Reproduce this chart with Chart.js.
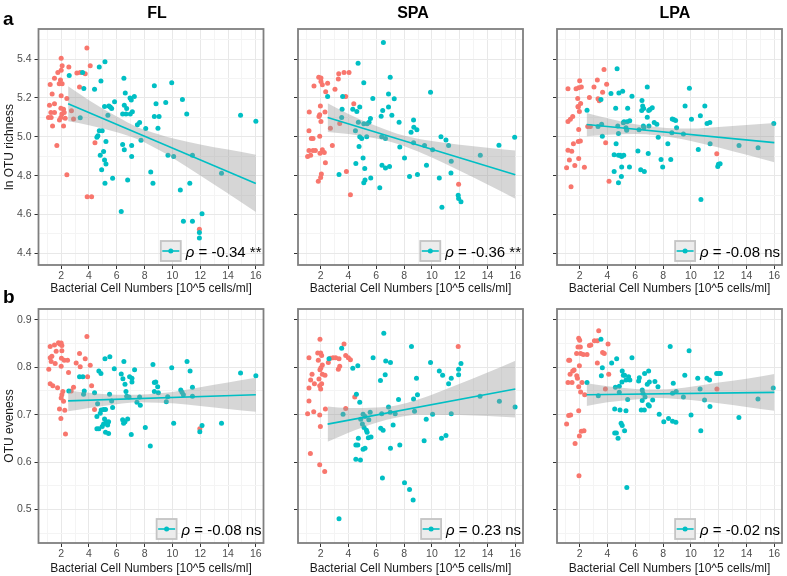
<!DOCTYPE html>
<html><head><meta charset="utf-8">
<script src="https://cdn.jsdelivr.net/npm/chart.js@4/dist/chart.umd.min.js"></script>
<style>
html,body{margin:0;padding:0;background:#fff;}
#wrap{position:relative;width:787px;height:576px;overflow:hidden;font-family:"Liberation Sans",Arial,Helvetica,sans-serif;}
canvas{position:absolute;left:0;top:0;}
.lbl{position:absolute;font-weight:bold;color:#000;line-height:1;white-space:nowrap;}
.ttl{position:absolute;width:200px;text-align:center;font-weight:bold;font-size:16px;line-height:1;color:#000;}
</style></head><body>
<div id="wrap">
  <div class="lbl" style="left:3px;top:9px;font-size:19px">a</div>
  <div class="lbl" style="left:3px;top:287px;font-size:19px">b</div>
  <div class="ttl" style="left:57px;top:4.5px">FL</div>
  <div class="ttl" style="left:313px;top:4.5px">SPA</div>
  <div class="ttl" style="left:575px;top:4.5px">LPA</div>
</div>
<script>
// ---------- categories / text ----------
const PANEL_TITLES = ['FL', 'SPA', 'LPA'];
const Y_TITLES = ['ln OTU richness', 'OTU eveness'];
const X_TITLE = 'Bacterial Cell Numbers [10^5 cells/ml]';
const LEGEND_TEXT = [['-0.34 **', '-0.36 **', '-0.08 ns'], ['-0.08 ns', '0.23 ns', '-0.02 ns']];

// ---------- ticks ----------
const X_TICKS = [1,2,3,4,5,6,7,8,9,10,11,12,13,14,15,16];
const X_LABELS = ['2','4','6','8','10','12','14','16'];
const Y_RICH_TICKS = [4.4,4.5,4.6,4.7,4.8,4.9,5.0,5.1,5.2,5.3,5.4,5.5];
const Y_RICH_LABELS = ['4.4','4.6','4.8','5.0','5.2','5.4'];
const Y_EVEN_TICKS = [0.45,0.5,0.55,0.6,0.65,0.7,0.75,0.8,0.85,0.9];
const Y_EVEN_LABELS = ['0.5','0.6','0.7','0.8','0.9'];

// ---------- richness (row a) ----------
const FL_RICH_LOW = [[3.85,5.457],[2.0,5.405],[2.07,5.366],[2.55,5.359],[2.0,5.342],[1.76,5.331],[3.13,5.328],[3.37,5.331],[3.73,5.324],[4.09,5.366],[1.52,5.302],[1.95,5.293],[1.21,5.269],[1.86,5.273],[2.07,5.273],[3.32,5.256],[1.35,5.22],[2.0,5.211],[2.41,5.197],[1.16,5.163],[1.52,5.17],[1.98,5.147],[2.17,5.142],[1.26,5.125],[1.52,5.125],[2.05,5.118],[2.22,5.125],[1.09,5.1],[1.28,5.1],[1.98,5.1],[1.88,5.087],[2.29,5.096],[2.74,5.134],[2.89,5.092],[1.38,5.056],[2.17,5.056],[1.69,4.955],[2.41,4.804],[4.43,4.969],[3.87,4.692],[4.19,4.692],[11.94,4.524]];
const FL_RICH_HIGH = [[2.58,5.316],[3.54,5.331],[3.63,5.249],[3.37,5.098],[4.40,5.245],[4.74,5.359],[5.15,5.386],[4.86,5.287],[6.51,5.302],[6.61,5.225],[5.84,5.18],[5.12,5.156],[5.43,5.159],[5.53,5.153],[5.63,5.146],[5.36,5.111],[6.54,5.163],[6.71,5.146],[6.42,5.118],[6.66,5.118],[6.95,5.2],[7.04,5.19],[7.26,5.208],[7.12,5.129],[6.97,5.118],[7.48,5.062],[7.64,5.074],[8.08,5.043],[7.74,4.982],[8.70,5.263],[8.82,5.17],[8.70,5.104],[9.04,5.104],[8.96,5.044],[9.52,5.177],[9.95,5.278],[9.68,4.905],[10.09,4.898],[10.72,5.192],[11.03,5.118],[11.44,4.905],[10.57,4.726],[11.25,4.761],[10.79,4.565],[11.44,4.565],[12.13,4.604],[11.94,4.507],[11.94,4.479],[13.53,4.812],[14.9,5.111],[16.0,5.08],[4.57,4.998],[4.64,5.005],[4.74,5.031],[4.95,5.031],[5.22,4.976],[5.05,4.924],[4.81,4.905],[5.12,4.881],[5.22,4.86],[4.91,4.83],[5.15,4.761],[5.70,4.787],[6.42,4.96],[6.54,4.933],[7.07,4.955],[7.07,4.898],[6.78,4.778],[6.32,4.615],[8.44,4.819],[8.6,4.761]];
const SPA_RICH_LOW = [[1.86,5.307],[2.02,5.303],[2.02,5.285],[2.12,5.268],[1.52,5.261],[2.5,5.276],[3.3,5.324],[3.68,5.331],[4.04,5.331],[3.27,5.297],[2.36,5.232],[3.03,5.245],[3.8,5.207],[4.38,5.17],[1.18,5.128],[2.31,5.128],[1.98,5.159],[1.93,5.113],[1.88,5.104],[2.02,5.079],[2.7,5.044],[3.37,5.068],[1.16,5.031],[1.33,4.991],[1.45,4.991],[1.93,5.003],[2.84,4.955],[1.16,4.929],[1.45,4.929],[2.12,4.933],[2.26,4.919],[1.62,4.929],[1.06,4.898],[1.28,4.905],[1.95,4.915],[2.34,4.867],[2.05,4.809],[2.0,4.79],[1.83,4.771],[3.85,4.821],[4.14,4.702],[11.92,4.756]];
const SPA_RICH_HIGH = [[6.51,5.486],[4.69,5.379],[7.0,5.307],[5.1,5.278],[2.5,5.208],[3.58,5.208],[5.75,5.197],[6.88,5.22],[9.9,5.23],[7.29,5.196],[6.88,5.153],[4.81,5.153],[4.31,5.142],[4.6,5.13],[6.46,5.135],[6.35,5.106],[7.12,5.111],[3.54,5.142],[3.51,5.099],[5.58,5.094],[4.71,5.075],[5.1,5.067],[5.34,5.067],[5.48,5.075],[8.68,5.087],[8.7,5.049],[8.92,5.036],[7.64,5.075],[4.5,5.031],[8.5,5.024],[4.81,5.0],[4.95,4.991],[5.31,5.0],[6.39,5.0],[6.66,4.991],[8.68,4.97],[10.65,5.0],[11.01,4.984],[11.2,4.955],[7.69,4.948],[9.47,4.955],[10.05,4.933],[4.76,4.95],[14.82,4.956],[15.95,4.998],[13.48,4.905],[11.39,4.874],[5.05,4.891],[4.53,4.862],[6.41,4.854],[6.66,4.84],[6.95,4.847],[8.03,4.891],[9.61,4.854],[5.17,4.837],[3.32,4.806],[5.6,4.788],[8.39,4.795],[8.96,4.806],[11.37,4.814],[10.53,4.788],[5.19,4.778],[5.1,4.763],[6.25,4.738],[11.89,4.699],[11.92,4.682],[12.09,4.665],[10.72,4.637]];
const LPA_RICH_LOW = [[3.75,5.347],[3.27,5.292],[2.0,5.288],[1.16,5.247],[1.74,5.247],[1.93,5.252],[2.12,5.256],[3.03,5.256],[3.94,5.27],[3.65,5.23],[1.86,5.197],[2.7,5.202],[3.32,5.196],[3.41,5.185],[2.07,5.171],[1.88,5.156],[1.98,5.13],[1.9,5.153],[1.16,5.079],[1.33,5.091],[1.5,5.104],[1.93,5.037],[2.58,5.053],[2.77,5.053],[3.87,4.97],[1.55,4.964],[1.9,4.976],[2.05,4.979],[1.16,4.931],[1.43,4.925],[1.93,4.888],[1.26,4.881],[1.65,4.852],[1.06,4.841],[2.34,4.843],[1.38,4.743],[4.11,4.771],[11.86,4.913]];
const LPA_RICH_HIGH = [[4.69,5.35],[2.53,5.137],[3.53,5.192],[4.25,5.223],[4.82,5.225],[5.09,5.235],[5.76,5.209],[4.59,5.147],[6.48,5.187],[6.53,5.159],[6.46,5.135],[6.6,5.146],[7.22,5.15],[7.05,5.141],[6.96,5.136],[6.86,5.256],[6.86,5.101],[5.45,5.147],[4.74,5.056],[5.19,5.077],[5.14,5.072],[5.41,5.077],[5.6,5.082],[5.33,5.046],[5.38,5.034],[3.32,5.053],[3.58,5.065],[3.63,5.003],[4.79,5.017],[6.27,5.036],[6.58,5.056],[6.62,5.046],[6.98,5.056],[7.36,5.074],[7.55,5.065],[7.65,4.998],[8.66,5.092],[8.76,5.089],[8.9,5.084],[8.97,5.046],[8.63,5.021],[9.46,5.014],[9.58,5.158],[9.89,5.25],[10.04,5.091],[10.68,5.108],[11.0,5.158],[11.16,5.068],[11.36,5.074],[11.38,4.964],[10.53,4.935],[8.34,4.964],[7.85,4.883],[8.55,4.883],[6.93,4.914],[6.19,4.927],[4.62,4.964],[4.48,4.907],[4.79,4.905],[4.91,4.905],[5.02,4.898],[5.17,4.905],[5.02,4.845],[4.48,4.821],[4.79,4.763],[5.0,4.795],[5.58,4.845],[6.39,4.83],[6.65,4.821],[7.97,4.845],[11.93,4.847],[11.98,4.859],[12.1,4.861],[10.72,4.677],[13.46,4.955],[14.83,4.943],[15.96,5.068]];

// ---------- evenness (row b) ----------
const FL_EVEN_LOW = [[1.21,0.844],[1.52,0.847],[1.81,0.852],[2.0,0.851],[1.9,0.849],[2.05,0.846],[1.64,0.834],[2.05,0.835],[1.33,0.823],[1.21,0.82],[1.28,0.812],[1.57,0.808],[2.02,0.819],[2.22,0.815],[2.46,0.815],[2.0,0.802],[3.32,0.829],[3.08,0.809],[3.37,0.801],[3.73,0.818],[3.85,0.865],[4.09,0.804],[2.53,0.789],[1.11,0.796],[1.21,0.765],[1.4,0.761],[1.74,0.757],[3.9,0.78],[4.19,0.761],[2.89,0.758],[2.72,0.75],[2.12,0.749],[2.05,0.742],[2.0,0.735],[2.17,0.728],[1.88,0.712],[2.26,0.709],[4.4,0.711],[1.98,0.692],[2.31,0.659],[11.97,0.67]];
const FL_EVEN_HIGH = [[2.55,0.75],[3.32,0.78],[3.56,0.78],[3.66,0.75],[3.61,0.743],[4.4,0.746],[4.62,0.723],[4.71,0.792],[4.86,0.787],[4.81,0.703],[4.88,0.71],[5.05,0.711],[5.19,0.711],[4.57,0.696],[5.12,0.691],[4.57,0.67],[4.71,0.67],[4.95,0.675],[5.05,0.68],[5.24,0.685],[5.34,0.678],[5.41,0.685],[5.19,0.663],[5.41,0.66],[5.15,0.818],[5.5,0.822],[5.82,0.797],[5.48,0.743],[5.63,0.729],[5.70,0.715],[6.51,0.812],[6.32,0.786],[6.44,0.776],[6.59,0.764],[6.66,0.749],[6.71,0.739],[6.92,0.78],[7.09,0.777],[7.09,0.769],[7.28,0.795],[7.45,0.726],[7.69,0.72],[7.64,0.737],[6.88,0.737],[6.42,0.689],[6.59,0.685],[6.78,0.691],[6.49,0.682],[7.04,0.658],[8.05,0.673],[8.41,0.634],[8.6,0.806],[8.8,0.769],[8.7,0.768],[8.94,0.759],[8.99,0.746],[8.7,0.749],[9.56,0.727],[9.66,0.738],[9.95,0.799],[10.09,0.682],[10.6,0.752],[10.69,0.747],[10.79,0.742],[11.05,0.812],[11.27,0.792],[11.44,0.758],[11.44,0.739],[11.97,0.664],[12.13,0.677],[13.53,0.682],[14.9,0.788],[16.0,0.782]];
const SPA_EVEN_LOW = [[1.95,0.859],[1.79,0.83],[2.0,0.83],[2.07,0.825],[1.16,0.82],[1.83,0.815],[2.12,0.805],[2.02,0.799],[1.95,0.795],[1.38,0.785],[2.12,0.785],[2.31,0.783],[1.28,0.773],[1.55,0.765],[1.88,0.775],[1.93,0.761],[2.07,0.765],[1.16,0.756],[2.0,0.754],[1.16,0.729],[1.5,0.706],[1.06,0.702],[1.93,0.699],[2.34,0.712],[1.98,0.675],[1.26,0.618],[1.93,0.594],[2.29,0.58],[2.55,0.81],[2.7,0.819],[2.89,0.82],[3.08,0.82],[3.32,0.818],[3.27,0.796],[3.37,0.802],[3.68,0.849],[3.8,0.825],[3.99,0.82],[4.14,0.816],[3.8,0.713],[4.45,0.737],[11.89,0.844]];
const SPA_EVEN_HIGH = [[3.51,0.84],[2.6,0.818],[3.61,0.701],[4.31,0.798],[4.67,0.803],[4.57,0.743],[4.81,0.726],[4.71,0.65],[4.53,0.636],[4.67,0.636],[5.05,0.627],[5.19,0.629],[4.53,0.606],[4.86,0.604],[4.88,0.69],[5.05,0.701],[5.19,0.696],[5.0,0.68],[5.12,0.673],[5.29,0.667],[5.34,0.663],[5.43,0.651],[5.62,0.653],[5.46,0.689],[5.56,0.705],[5.77,0.82],[6.54,0.872],[6.68,0.813],[7.02,0.81],[6.64,0.784],[6.3,0.772],[6.39,0.702],[6.88,0.716],[7.0,0.705],[7.36,0.702],[7.6,0.732],[7.21,0.678],[6.32,0.671],[6.49,0.667],[7.02,0.629],[7.69,0.636],[6.44,0.566],[8.03,0.556],[8.39,0.542],[8.65,0.52],[8.53,0.844],[8.68,0.733],[8.96,0.742],[8.89,0.777],[8.75,0.707],[9.59,0.69],[9.44,0.645],[9.9,0.81],[10.05,0.701],[10.53,0.792],[10.77,0.783],[11.01,0.656],[10.69,0.65],[11.2,0.765],[11.39,0.777],[11.39,0.702],[11.92,0.796],[11.92,0.784],[12.09,0.808],[13.46,0.739],[14.85,0.728],[15.98,0.716],[3.32,0.48]];
const LPA_EVEN_LOW = [[3.37,0.877],[1.93,0.861],[2.0,0.857],[2.05,0.843],[1.88,0.843],[2.7,0.846],[2.8,0.847],[3.06,0.856],[3.27,0.856],[4.04,0.849],[1.78,0.829],[2.07,0.829],[2.26,0.827],[2.53,0.827],[3.65,0.831],[3.77,0.829],[1.21,0.815],[1.28,0.815],[3.27,0.809],[1.98,0.803],[1.5,0.792],[1.6,0.794],[1.31,0.785],[1.79,0.782],[1.84,0.777],[4.09,0.785],[1.16,0.768],[1.45,0.768],[2.17,0.768],[1.93,0.759],[2.07,0.748],[2.36,0.742],[3.85,0.754],[1.21,0.698],[1.35,0.699],[1.93,0.708],[1.06,0.68],[2.12,0.665],[2.31,0.666],[1.98,0.655],[1.67,0.639],[1.95,0.571],[11.87,0.754]];
const LPA_EVEN_HIGH = [[3.53,0.859],[2.53,0.768],[3.34,0.74],[3.63,0.799],[3.56,0.782],[4.3,0.809],[4.66,0.818],[4.57,0.758],[4.85,0.76],[4.85,0.747],[5.06,0.792],[5.14,0.783],[5.23,0.783],[5.33,0.773],[5.04,0.769],[5.52,0.78],[5.61,0.773],[5.45,0.732],[5.76,0.82],[4.52,0.712],[4.9,0.71],[5.33,0.708],[4.98,0.682],[5.06,0.677],[5.23,0.666],[4.52,0.661],[4.64,0.661],[4.76,0.65],[5.39,0.546],[6.24,0.771],[6.29,0.778],[6.67,0.787],[6.96,0.792],[6.86,0.764],[7.01,0.769],[6.5,0.752],[6.55,0.745],[6.7,0.737],[6.5,0.73],[6.43,0.71],[6.65,0.71],[6.93,0.721],[7.01,0.718],[7.25,0.731],[7.41,0.77],[7.63,0.759],[7.72,0.701],[8.05,0.685],[8.39,0.692],[8.68,0.686],[8.92,0.684],[8.51,0.844],[8.68,0.745],[8.73,0.766],[8.94,0.749],[9.46,0.737],[9.56,0.783],[9.87,0.835],[10.01,0.699],[10.49,0.777],[10.66,0.754],[10.71,0.666],[10.98,0.731],[11.15,0.777],[11.34,0.773],[11.37,0.717],[11.85,0.787],[12.0,0.787],[12.12,0.787],[13.45,0.694],[14.82,0.733],[15.92,0.756]];

// ---------- fitted lines and confidence bands ----------
const BAND_X = [2.5,4,6,7.5,9,10,12,14,16];
const FL_RICH_FIT = [[2.5,5.17],[16,4.76]];
const FL_RICH_UP = [5.26,5.188,5.104,5.049,5.013,4.992,4.961,4.934,4.907];
const FL_RICH_LO = [5.08,5.06,5.024,4.987,4.933,4.892,4.801,4.708,4.613];
const SPA_RICH_FIT = [[2.5,5.099],[16,4.805]];
const SPA_RICH_UP = [5.173,5.118,5.055,5.016,4.99,4.979,4.959,4.944,4.929];
const SPA_RICH_LO = [5.025,5.014,4.991,4.964,4.924,4.893,4.825,4.754,4.681];
const LPA_RICH_FIT = [[2.5,5.063],[16,4.97]];
const LPA_RICH_UP = [5.123,5.095,5.064,5.05,5.043,5.043,5.051,5.061,5.071];
const LPA_RICH_LO = [5.003,5.011,5.014,5.008,4.993,4.979,4.945,4.907,4.869];
const FL_EVEN_FIT = [[2.5,0.729],[16,0.742]];
const FL_EVEN_UP = [0.751,0.746,0.742,0.742,0.745,0.748,0.758,0.768,0.778];
const FL_EVEN_LO = [0.707,0.714,0.722,0.726,0.725,0.724,0.718,0.712,0.706];
const SPA_EVEN_FIT = [[2.5,0.68],[16,0.754]];
const SPA_EVEN_UP = [0.717,0.714,0.715,0.72,0.732,0.742,0.765,0.789,0.814];
const SPA_EVEN_LO = [0.643,0.662,0.683,0.694,0.70,0.70,0.699,0.697,0.694];
const LPA_EVEN_FIT = [[2.5,0.742],[16,0.747]];
const LPA_EVEN_UP = [0.766,0.760,0.754,0.753,0.755,0.759,0.768,0.776,0.786];
const LPA_EVEN_LO = [0.718,0.726,0.732,0.735,0.733,0.731,0.724,0.716,0.708];

// ---------- style ----------
const RED = '#F8766D', TEAL = '#00BFC4';
const FONT = '"Liberation Sans", Arial, Helvetica, sans-serif';
Chart.defaults.font.family = FONT;

const COLS = [{left:38.5,right:263.5,w:35.7,labels:true},{left:298,right:523,w:4,labels:false},{left:557,right:782,w:4,labels:false}];
const ROWS = [
  {top:29,bottom:265,h:31,min:4.34,max:5.555,ticks:Y_RICH_TICKS,labels:Y_RICH_LABELS,
   data:[[FL_RICH_LOW,FL_RICH_HIGH,FL_RICH_FIT,FL_RICH_UP,FL_RICH_LO],[SPA_RICH_LOW,SPA_RICH_HIGH,SPA_RICH_FIT,SPA_RICH_UP,SPA_RICH_LO],[LPA_RICH_LOW,LPA_RICH_HIGH,LPA_RICH_FIT,LPA_RICH_UP,LPA_RICH_LO]]},
  {top:309,bottom:543,h:33,min:0.429,max:0.923,ticks:Y_EVEN_TICKS,labels:Y_EVEN_LABELS,
   data:[[FL_EVEN_LOW,FL_EVEN_HIGH,FL_EVEN_FIT,FL_EVEN_UP,FL_EVEN_LO],[SPA_EVEN_LOW,SPA_EVEN_HIGH,SPA_EVEN_FIT,SPA_EVEN_UP,SPA_EVEN_LO],[LPA_EVEN_LOW,LPA_EVEN_HIGH,LPA_EVEN_FIT,LPA_EVEN_UP,LPA_EVEN_LO]]}
];

const pts = arr => arr.map(p => ({x:p[0], y:p[1]}));
const bandPts = ys => BAND_X.map((x,i) => ({x:x, y:ys[i]}));

const framePlugin = {
  id: 'frame',
  afterDraw(chart, args, opts) {
    const {ctx, chartArea:a} = chart;
    ctx.save();
    ctx.strokeStyle = '#7f7f7f';
    ctx.lineWidth = 1.8;
    ctx.strokeRect(a.left, a.top, a.right - a.left, a.bottom - a.top);
    // legend
    const fs = 15;
    ctx.font = 'italic ' + fs + 'px ' + FONT;
    const wr = ctx.measureText('\u03C1').width;
    ctx.font = fs + 'px ' + FONT;
    const rest = ' = ' + opts.text;
    const wt = ctx.measureText(rest).width;
    const textRight = a.right - 2;
    const textLeft = textRight - wr - wt;
    const keyR = textLeft - 5, keyL = keyR - 20;
    const keyB = a.bottom - 4, keyT = keyB - 20;
    ctx.fillStyle = '#ececec';
    ctx.fillRect(keyL, keyT, keyR - keyL, keyB - keyT);
    ctx.strokeStyle = '#c4c4c4';
    ctx.lineWidth = 1.8;
    ctx.strokeRect(keyL, keyT, keyR - keyL, keyB - keyT);
    const cy = (keyT + keyB) / 2;
    ctx.strokeStyle = TEAL;
    ctx.lineWidth = 1.6;
    ctx.beginPath(); ctx.moveTo(keyL + 1.5, cy); ctx.lineTo(keyR - 1.5, cy); ctx.stroke();
    ctx.fillStyle = TEAL;
    ctx.beginPath(); ctx.arc((keyL + keyR) / 2, cy, 2.5, 0, Math.PI * 2); ctx.fill();
    ctx.fillStyle = '#000';
    ctx.textBaseline = 'alphabetic';
    ctx.textAlign = 'left';
    const base = a.bottom - 8.5;
    ctx.font = 'italic ' + fs + 'px ' + FONT;
    ctx.fillText('\u03C1', textLeft, base);
    ctx.font = fs + 'px ' + FONT;
    ctx.fillText(rest, textLeft + wr, base);
    ctx.restore();
  }
};

const wrap = document.getElementById('wrap');

function makePanel(r, c) {
  const row = ROWS[r], col = COLS[c];
  const d = row.data[c];
  const canvas = document.createElement('canvas');
  canvas.width = 787; canvas.height = 576;
  canvas.style.width = '787px'; canvas.style.height = '576px';
  wrap.insertBefore(canvas, wrap.firstChild);
  const xMajor = v => Math.round(v) % 2 === 0;
  const yMajorSet = row.labels.map(Number);
  const isYMajor = v => yMajorSet.some(m => Math.abs(m - v) < 1e-6);
  new Chart(canvas, {
    type: 'scatter',
    data: {
      datasets: [
        {type:'line', label:'fit', data: pts(d[2]), borderColor: TEAL, borderWidth: 1.6, pointRadius: 0, fill: false, order: 0},
        {type:'line', label:'upper', data: bandPts(d[3]), borderColor: 'rgba(0,0,0,0)', borderWidth: 0.01, pointRadius: 0, fill: false, cubicInterpolationMode: 'monotone', order: 1},
        {type:'line', label:'lower', data: bandPts(d[4]), borderColor: 'rgba(0,0,0,0)', borderWidth: 0.01, pointRadius: 0, fill: '-1', backgroundColor: 'rgba(153,153,153,0.4)', cubicInterpolationMode: 'monotone', order: 1},
        {label:'high', data: pts(d[1]), backgroundColor: TEAL, borderColor: TEAL, borderWidth: 0, pointRadius: 2.5, order: 2},
        {label:'low', data: pts(d[0]), backgroundColor: RED, borderColor: RED, borderWidth: 0, pointRadius: 2.5, order: 3}
      ]
    },
    options: {
      responsive: false,
      animation: false,
      events: [],
      devicePixelRatio: 1,
      layout: { padding: { left: col.left - col.w, right: 787 - col.right, top: row.top, bottom: Math.max(0, 576 - row.bottom - row.h) } },
      plugins: { legend: {display:false}, tooltip: {enabled:false}, frame: { text: LEGEND_TEXT[r][c] } },
      scales: {
        x: {
          type: 'linear', min: 0.37, max: 16.55,
          afterBuildTicks: s => { s.ticks = X_TICKS.map(v => ({value: v})); },
          afterFit: s => { s.height = row.h; },
          ticks: { autoSkip: false, maxRotation: 0, minRotation: 0, padding: 1, color: '#4d4d4d', font: {size: 10.5},
                   callback: (v) => xMajor(v) ? X_LABELS[X_LABELS.indexOf(String(Math.round(v)))] : '' },
          grid: { lineWidth: 1, tickLength: 4, drawTicks: true,
                  color: ctx => (ctx.tick && xMajor(ctx.tick.value)) ? '#e8e8e8' : '#f4f4f4',
                  tickColor: ctx => (ctx.tick && xMajor(ctx.tick.value)) ? '#333333' : 'rgba(0,0,0,0)' },
          border: { display: false },
          title: { display: true, text: X_TITLE, color: '#1a1a1a', font: {size: 12}, padding: 0 }
        },
        y: {
          type: 'linear', min: row.min, max: row.max,
          afterBuildTicks: s => { s.ticks = row.ticks.map(v => ({value: v})); },
          afterFit: s => { s.width = col.w; },
          ticks: { autoSkip: false, padding: 3, color: '#4d4d4d', font: {size: 10.5},
                   callback: (v) => (col.labels && isYMajor(v)) ? row.labels[yMajorSet.findIndex(m => Math.abs(m - v) < 1e-6)] : '' },
          grid: { lineWidth: 1, tickLength: 4, drawTicks: true,
                  color: ctx => (ctx.tick && isYMajor(ctx.tick.value)) ? '#e8e8e8' : '#f4f4f4',
                  tickColor: ctx => (ctx.tick && isYMajor(ctx.tick.value)) ? '#333333' : 'rgba(0,0,0,0)' },
          border: { display: false },
          title: { display: col.labels, text: Y_TITLES[r], color: '#1a1a1a', font: {size: 12}, padding: 0 }
        }
      }
    },
    plugins: [framePlugin]
  });
}

for (let r = 0; r < 2; r++) for (let c = 0; c < 3; c++) makePanel(r, c);
</script>
</body></html>
